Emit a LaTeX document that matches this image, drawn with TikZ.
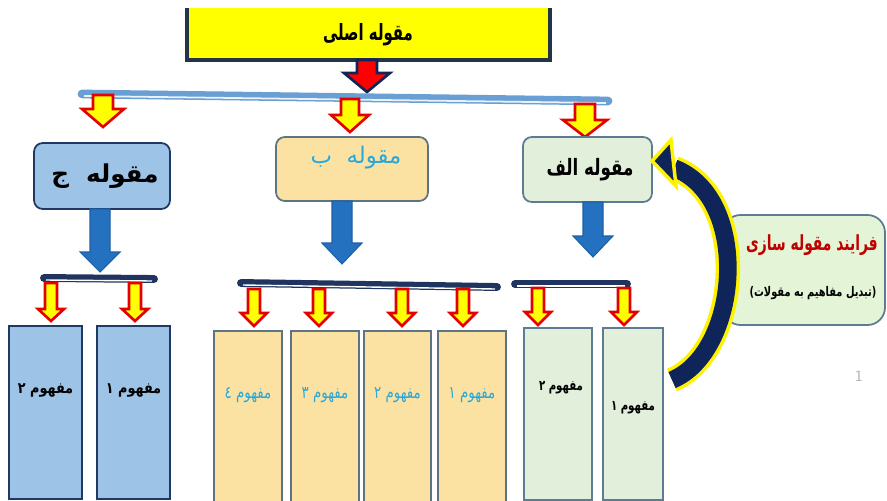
\documentclass[tikz,border=0pt]{standalone}
\usepackage{fontspec}
\usepackage{graphicx}
\usepackage{tikz}
\TeXXeTstate=1
\newfontfamily\arabicfont[Script=Arabic]{DejaVu Sans}

\definecolor{titleyellow}{HTML}{FFFF00}
\definecolor{darkline}{HTML}{243447}
\definecolor{topbar}{HTML}{6A9FD4}
\definecolor{jfill}{HTML}{9DC3E6}
\definecolor{jline}{HTML}{1F3864}
\definecolor{bfill}{HTML}{FCE2A2}
\definecolor{bline}{HTML}{5F7482}
\definecolor{btext}{HTML}{2AA8D8}
\definecolor{afill}{HTML}{E2EFDA}
\definecolor{aline}{HTML}{5D7C94}
\definecolor{arrowblue}{HTML}{2471C0}
\definecolor{navybar}{HTML}{1F3560}
\definecolor{procfill}{HTML}{E3F5D6}
\definecolor{proctext}{HTML}{C00000}
\definecolor{curvenavy}{HTML}{0F2458}

\tikzset{
  yarrow/.style={fill=titleyellow, draw=red!90!black, line width=1.5, line join=miter},
  barrow/.style={fill=arrowblue, draw=arrowblue!85!black, line width=0.6},
  catbox/.style={rounded corners=5, line width=1},
  conbox/.style={line width=1},
  lbl/.style={inner sep=0, font=\arabicfont\bfseries}
}

\begin{document}
\begin{tikzpicture}[x=0.02cm, y=-0.02cm]

\useasboundingbox (0,0) rectangle (887,501);
\clip (0,0) rectangle (887,501);

\fill[titleyellow] (187,8) rectangle (550,60);
\draw[darkline, line width=2.5] (187,8) -- (187,60) -- (550,60) -- (550,8);
\node[lbl, font=\arabicfont\bfseries\fontsize{8.5}{10}\selectfont] (main) at (368,35) {\scalebox{1}[1.5]{\beginR مقوله اصلی\endR}};

\draw[fill=red, draw=curvenavy, line width=1.5, line join=miter]
  (357,60) -- (377,60) -- (377,73) -- (390,73) -- (367,92) -- (344,73) -- (357,73) -- cycle;

\draw[topbar, line width=5, line cap=round] (82,94) -- (608,101);
\draw[white!85!topbar, line width=1] (84,96) -- (606,103);

\foreach \x/\a/\b/\c/\s/\h in {103/95/109/127/10/21, 350/99/115/132/9/19, 585/104/120/137/10/22}
  \draw[yarrow] ({\x-\s},\a) -- ({\x+\s},\a) -- ({\x+\s},\b) -- ({\x+\h},\b) -- (\x,\c)
    -- ({\x-\h},\b) -- ({\x-\s},\b) -- cycle;

\draw[catbox, fill=jfill, draw=jline] (34,143) rectangle (170,209);
\node[lbl, font=\arabicfont\bfseries\fontsize{14}{16}\selectfont] (catj) at (105,176) {\beginR مقوله\ \ ج\endR};

\draw[catbox, fill=bfill, draw=bline] (276,137) rectangle (428,201);
\node[lbl, font=\arabicfont\fontsize{13}{15}\selectfont, text=btext] (catb) at (356,158) {\beginR مقوله\ \ ب\endR};

\draw[catbox, fill=afill, draw=aline] (523,137) rectangle (652,202);
\node[lbl, font=\arabicfont\bfseries\fontsize{9.5}{11}\selectfont] (catalef) at (590,170) {\scalebox{1}[1.35]{\beginR مقوله الف\endR}};

\foreach \x/\a/\b/\c in {100/209/252/272, 342/201/243/264, 593/202/236/257}
  \draw[barrow] ({\x-10},\a) -- ({\x+10},\a) -- ({\x+10},\b) -- ({\x+20},\b) -- (\x,\c)
    -- ({\x-20},\b) -- ({\x-10},\b) -- cycle;

\draw[navybar, line width=4.5, line cap=round] (44,278) -- (154,279);
\draw[navybar, line width=4.5, line cap=round] (241,283) -- (497,287);
\draw[navybar, line width=4.5, line cap=round] (515,284) -- (627,284);
\draw[white, line width=0.8] (46,280) -- (152,281);
\draw[white, line width=0.8] (243,285) -- (495,289);
\draw[white, line width=0.8] (517,286) -- (625,286);

\foreach \x/\a/\b/\c in {51/283/309/321, 135/283/309/321,
    254/289/313/326, 319/289/313/326, 402/289/313/326, 463/289/313/326,
    538/288/312/325, 624/288/312/325}
  \draw[yarrow] ({\x-6},\a) -- ({\x+6},\a) -- ({\x+6},\b) -- ({\x+13},\b) -- (\x,\c)
    -- ({\x-13},\b) -- ({\x-6},\b) -- cycle;

\foreach \xa/\xb/\n [count=\i] in {97/170/۱, 9/82/۲}
{
  \draw[conbox, fill=jfill, draw=jline] (\xa,326) rectangle (\xb,499);
  \node[lbl, font=\arabicfont\bfseries\fontsize{7.3}{9}\selectfont] (conj\i) at ({(\xa+\xb)/2},390) {\scalebox{1}[1.2]{\beginR مفهوم \n\endR}};
}

\foreach \xa/\xb/\n [count=\i] in {438/506/۱, 364/431/۲, 291/359/۳, 214/282/٤}
{
  \draw[conbox, fill=bfill, draw=bline] (\xa,331) rectangle (\xb,510);
  \node[lbl, font=\arabicfont\fontsize{7.6}{9}\selectfont, text=btext] (conb\i) at ({(\xa+\xb)/2},395) {\scalebox{1}[1.3]{\beginR مفهوم \n\endR}};
}

\draw[conbox, fill=afill, draw=aline] (603,328) rectangle (663,500);
\draw[conbox, fill=afill, draw=aline] (524,328) rectangle (592,500);
\node[lbl, font=\arabicfont\bfseries\fontsize{5.8}{7}\selectfont] (cona1) at (633,408) {\scalebox{1}[1.4]{\beginR مفهوم ۱\endR}};
\node[lbl, font=\arabicfont\bfseries\fontsize{5.8}{7}\selectfont] (cona2) at (561,388) {\scalebox{1}[1.4]{\beginR مفهوم ۲\endR}};

\draw[catbox, rounded corners=10, fill=procfill, draw=aline] (723,215) rectangle (885,325);
\node[lbl, font=\arabicfont\bfseries\fontsize{7.9}{9}\selectfont, text=proctext] (proc) at (812,245) {\scalebox{1}[1.5]{\beginR فرایند مقوله سازی\endR}};
\node[lbl, font=\arabicfont\bfseries\fontsize{5.6}{7}\selectfont] (procsub) at (813,293) {\scalebox{1}[1.35]{)\beginR تبدیل مفاهیم به مقولات\endR(}};

\draw[yellow, line width=14] (672,380) .. controls (740,352) and (752,198) .. (674,168);
\draw[curvenavy, line width=10] (672,380) .. controls (740,352) and (752,198) .. (674,168);
\draw[fill=curvenavy, draw=yellow, line width=2, line join=miter] (652,161) -- (671,140) -- (676,186) -- cycle;

\node[inner sep=0, text=gray!60, font=\sffamily\fontsize{9}{10}\selectfont] (mark) at (859,376) {1};

\end{tikzpicture}
\end{document}
